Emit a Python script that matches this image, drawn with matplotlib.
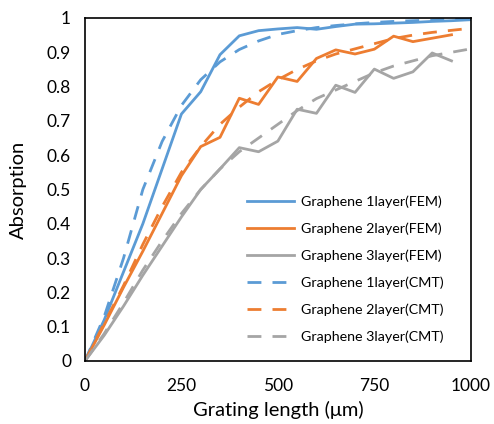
import matplotlib
matplotlib.use("Agg")
import matplotlib.pyplot as plt

plt.rcParams['font.family'] = ['Lato', 'DejaVu Sans']

x_fem = [0, 50, 100, 150, 200, 250, 300, 350, 400, 450, 500, 550, 600, 650, 700, 750, 800, 850, 900, 950, 1000]
fem1 = [0, 0.12, 0.26, 0.40, 0.56, 0.72, 0.785, 0.893, 0.948, 0.963, 0.968, 0.972, 0.967, 0.975, 0.982, 0.983, 0.985, 0.987, 0.99, 0.992, 0.995]
x_fem23 = [0, 50, 100, 150, 200, 250, 300, 350, 400, 450, 500, 550, 600, 650, 700, 750, 800, 850, 900, 950]
fem2 = [0, 0.105, 0.215, 0.32, 0.43, 0.54, 0.625, 0.652, 0.766, 0.748, 0.828, 0.815, 0.882, 0.907, 0.895, 0.909, 0.947, 0.931, 0.941, 0.951]
fem3 = [0, 0.075, 0.16, 0.25, 0.335, 0.42, 0.50, 0.56, 0.622, 0.61, 0.641, 0.734, 0.722, 0.804, 0.783, 0.851, 0.824, 0.843, 0.898, 0.875]

x_cmt = [0, 50, 100, 150, 200, 250, 300, 350, 400, 450, 500, 550, 600, 650, 700, 750, 800, 850, 900, 950, 1000]
cmt1 = [0, 0.13, 0.30, 0.50, 0.64, 0.745, 0.82, 0.872, 0.908, 0.933, 0.952, 0.963, 0.972, 0.978, 0.983, 0.987, 0.99, 0.992, 0.994, 0.996, 0.997]
cmt2 = [0, 0.11, 0.22, 0.34, 0.45, 0.55, 0.625, 0.69, 0.74, 0.785, 0.82, 0.85, 0.875, 0.895, 0.91, 0.925, 0.94, 0.95, 0.958, 0.964, 0.97]
cmt3 = [0, 0.08, 0.17, 0.265, 0.35, 0.43, 0.50, 0.56, 0.61, 0.65, 0.69, 0.73, 0.765, 0.79, 0.815, 0.84, 0.86, 0.875, 0.89, 0.90, 0.91]

labels = ["Graphene 1layer(FEM)", "Graphene 2layer(FEM)", "Graphene 3layer(FEM)",
          "Graphene 1layer(CMT)", "Graphene 2layer(CMT)", "Graphene 3layer(CMT)"]
colors = ["#5B9BD5", "#ED7D31", "#A5A5A5"]

x_ticks = [0, 250, 500, 750, 1000]
y_ticks = [0, 0.1, 0.2, 0.3, 0.4, 0.5, 0.6, 0.7, 0.8, 0.9, 1]
y_ticklabels = ["0", "0.1", "0.2", "0.3", "0.4", "0.5", "0.6", "0.7", "0.8", "0.9", "1"]

fig = plt.figure(figsize=(4.94, 4.24), dpi=100)
ax = fig.add_axes([0.172, 0.1486, 0.781, 0.809])

lw = 2.0
dash = (0, (5, 4))
ax.plot(x_fem, fem1, color=colors[0], lw=lw, label=labels[0])
ax.plot(x_fem23, fem2, color=colors[1], lw=lw, label=labels[1])
ax.plot(x_fem23, fem3, color=colors[2], lw=lw, label=labels[2])
ax.plot(x_cmt, cmt1, color=colors[0], lw=lw, ls=dash, label=labels[3])
ax.plot(x_cmt, cmt2, color=colors[1], lw=lw, ls=dash, label=labels[4])
ax.plot(x_cmt, cmt3, color=colors[2], lw=lw, ls=dash, label=labels[5])

ax.set_xlim(0, 1000)
ax.set_ylim(0, 1)
ax.set_xticks(x_ticks)
ax.set_xticklabels([str(t) for t in x_ticks])
ax.set_yticks(y_ticks)
ax.set_yticklabels(y_ticklabels)
ax.tick_params(axis='x', length=0, labelsize=12.5, pad=12)
ax.tick_params(axis='y', length=0, labelsize=12.5, pad=10)
for s in ax.spines.values():
    s.set_color("black")
    s.set_linewidth(1.2)

ax.set_xlabel("Grating length (μm)", fontsize=14.5, labelpad=5)
ax.set_ylabel("Absorption", fontsize=14.5, labelpad=14)

ax.legend(loc="upper left", bbox_to_anchor=(0.405, 0.50), frameon=False,
          fontsize=10.3, handlelength=3.3, handletextpad=0.45, labelspacing=1.02,
          borderaxespad=0)

fig.savefig("out.png", dpi=100)
